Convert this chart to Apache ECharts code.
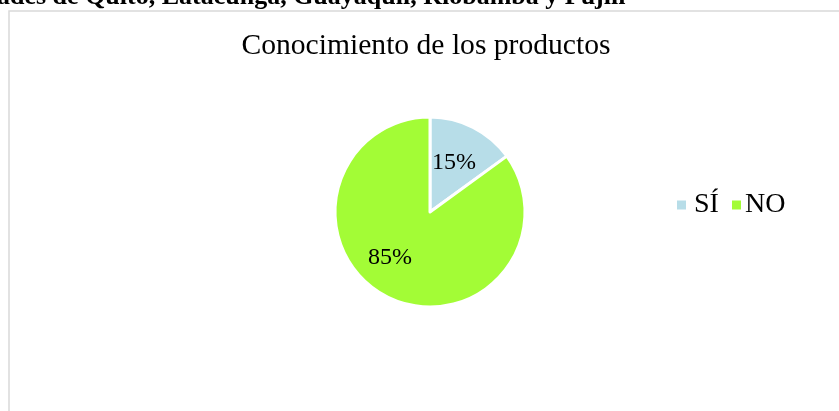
<!DOCTYPE html>
<html>
<head>
<meta charset="utf-8">
<script src="https://cdn.jsdelivr.net/npm/echarts@6/dist/echarts.min.js"></script>
<style>
  html, body { margin: 0; padding: 0; background: #ffffff; }
  #chart { width: 839px; height: 411px; }
</style>
</head>
<body>
<div id="chart"></div>
<script>
// Survey answers: do respondents know the products?
const categories = ['SÍ', 'NO'];
const shares = [15, 85];
const sliceColors = ['#b7dde8', '#a3fc36'];
const chartTitle = 'Conocimiento de los productos';
const headingText = 'ades de Quito, Latacunga, Guayaquil, Riobamba y Pujilí';

const serif = '"Liberation Serif", "Times New Roman", serif';

// per-slice label nudges so the percentages sit where the layout expects them
const labelOffsets = [[1, -4], [-17, 1]];

// one legend block per entry so each swatch/text pair can be placed on its own
const legendLefts = [677, 732];
const legendTextPads = [[0, 0, 0, 3], [0, 0, 0, -1]];

const chart = echarts.init(document.getElementById('chart'));

chart.setOption({
  backgroundColor: '#ffffff',
  animation: false,
  title: {
    text: chartTitle,
    left: 421,
    top: 26,
    textAlign: 'center',
    textStyle: { fontFamily: serif, fontSize: 29.6, fontWeight: 'normal', color: '#000000' }
  },
  legend: categories.map((name, i) => ({
    data: [name],
    orient: 'horizontal',
    left: legendLefts[i],
    top: 191,
    padding: 0,
    itemWidth: 9,
    itemHeight: 9,
    icon: 'rect',
    itemStyle: { borderWidth: 0 },
    textStyle: { fontFamily: serif, fontSize: 28, color: '#000000', padding: legendTextPads[i] }
  })),
  graphic: [
    {
      type: 'rect',
      shape: { x: 9, y: 11, width: 840, height: 420 },
      style: { fill: 'none', stroke: '#d9d9d9', lineWidth: 1.5 },
      z: -1,
      silent: true
    },
    {
      type: 'text',
      left: -3,
      top: -16,
      style: { text: headingText, font: 'bold 26px ' + serif, fill: '#000000' },
      silent: true
    }
  ],
  series: [{
    type: 'pie',
    center: [430, 212],
    radius: [0, 95],
    startAngle: 90,
    clockwise: true,
    itemStyle: { borderColor: '#ffffff', borderWidth: 3 },
    label: {
      show: true,
      position: 'inside',
      formatter: '{c}%',
      fontFamily: serif,
      fontSize: 24,
      color: '#000000'
    },
    labelLine: { show: false },
    emphasis: { disabled: true },
    data: categories.map((name, i) => ({
      name: name,
      value: shares[i],
      itemStyle: { color: sliceColors[i] },
      label: { offset: labelOffsets[i] }
    }))
  }]
});
</script>
</body>
</html>
